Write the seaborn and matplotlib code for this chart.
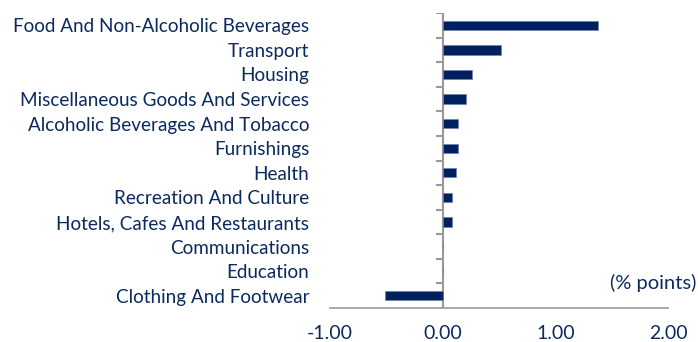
import matplotlib
matplotlib.use("Agg")
import matplotlib.pyplot as plt
import seaborn as sns
import pandas as pd

categories = [
    "Food And Non-Alcoholic Beverages",
    "Transport",
    "Housing",
    "Miscellaneous Goods And Services",
    "Alcoholic Beverages And Tobacco",
    "Furnishings",
    "Health",
    "Recreation And Culture",
    "Hotels, Cafes And Restaurants",
    "Communications",
    "Education",
    "Clothing And Footwear",
]
values = [1.38, 0.52, 0.26, 0.21, 0.14, 0.14, 0.12, 0.08, 0.08, 0.0, 0.0, -0.51]
xticks = [-1.0, 0.0, 1.0, 2.0]
unit_label = "(% points)"

navy = "#002060"
text_col = "#0b2a5e"
axis_col = "#999999"

sns.set_theme(style="white")
plt.rcParams["font.family"] = ["Lato", "DejaVu Sans"]

df = pd.DataFrame({"category": categories, "value": values})

fig = plt.figure(figsize=(6.98, 3.42), dpi=100)
ax = fig.add_axes([330 / 698, 1 - 308 / 342, (668 - 330) / 698, (308 - 13) / 342])

sns.barplot(data=df, y="category", x="value", orient="h", color=navy,
            width=0.38, saturation=1, edgecolor="#6f82b0", linewidth=0.5, ax=ax)

ax.set_xlim(-1.0, 2.0)
ax.set_ylim(len(categories) - 0.5, -0.5)
ax.set_xticks(xticks)
ax.set_xticklabels([f"{v:.2f}" for v in xticks])
ax.set_xlabel("")
ax.set_ylabel("")

for s in ["top", "right", "left"]:
    ax.spines[s].set_visible(False)
ax.spines["bottom"].set_color(axis_col)
ax.spines["bottom"].set_linewidth(1.2)

ax.tick_params(axis="x", direction="out", length=5, width=1.2, color=axis_col,
               labelsize=14, labelcolor=text_col, pad=7)
ax.tick_params(axis="y", length=0, labelsize=13.6, labelcolor=text_col, pad=15)

# category axis line at zero with boundary tick marks
ax.axvline(0, color=axis_col, lw=1.5, zorder=0)
n = len(categories)
bounds = [i - 0.5 for i in range(n)]
ax.hlines(bounds, -0.06, 0, colors=axis_col, lw=1.5, zorder=0)

fig.text(696 / 698, 1 - 283 / 342, unit_label, ha="right", va="center",
         fontsize=14.5, color=text_col)

fig.savefig("out.png", dpi=100)
